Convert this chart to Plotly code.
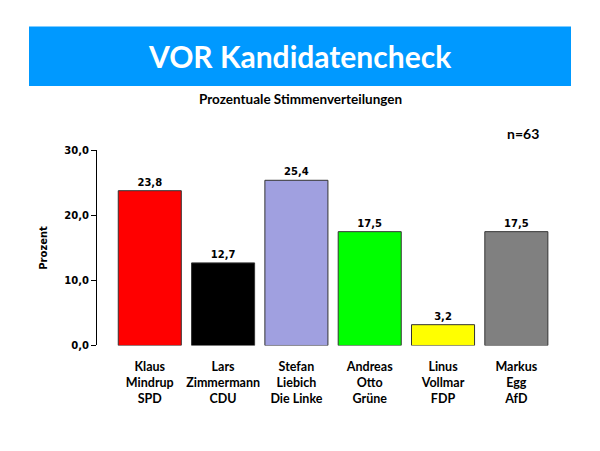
import plotly.graph_objects as go

candidates = ["Klaus<br>Mindrup<br>SPD", "Lars<br>Zimmermann<br>CDU", "Stefan<br>Liebich<br>Die Linke",
              "Andreas<br>Otto<br>Grüne", "Linus<br>Vollmar<br>FDP", "Markus<br>Egg<br>AfD"]
values = [23.8, 12.7, 25.4, 17.5, 3.2, 17.5]
colors = ["#FF0000", "#000000", "#A0A0E0", "#00FF00", "#FFFF00", "#808080"]
y_ticks = [0, 10, 20, 30]

W, H = 600, 451
x_idx = list(range(len(candidates)))

fig = go.Figure()
fig.add_trace(go.Bar(
    x=x_idx, y=values,
    marker=dict(color=colors, line=dict(color="#333333", width=1)),
    width=0.86,
    texttemplate="%{y:.1f}", textposition="outside",
    textfont=dict(family="DejaVu Sans", size=10, color="black", weight="bold"),
    cliponaxis=False,
))

fig.update_layout(
    width=W, height=H,
    margin=dict(l=0, r=0, t=0, b=0),
    paper_bgcolor="white", plot_bgcolor="white",
    separators=",.",
    showlegend=False,
    xaxis=dict(
        domain=[97 / W, 553 / W],
        range=[-0.72, 5.5],
        tickvals=x_idx,
        ticktext=candidates,
        tickfont=dict(family="Lato", size=12.5, color="black", weight="bold"),
        showline=False, showgrid=False, zeroline=False, ticks="",
        ticklabelstandoff=12,
    ),
    yaxis=dict(
        domain=[(H - 349) / H, (H - 149) / H],
        range=[0, 30],
        tickvals=y_ticks,
        tickformat=".1f",
        tickfont=dict(family="DejaVu Sans", size=10, color="black", weight="bold"),
        showline=True, linecolor="black", linewidth=1,
        ticks="outside", ticklen=5, tickcolor="black",
        showgrid=False, zeroline=False,
        title=dict(text="Prozent", font=dict(family="DejaVu Sans", size=10, color="black", weight="bold"), standoff=14),
    ),
    shapes=[dict(type="rect", xref="paper", yref="paper",
                 x0=29 / W, x1=571 / W, y0=1 - 83 / H, y1=1 - 22 / H,
                 fillcolor="#0099FF", line=dict(width=0), layer="below")],
    annotations=[
        dict(text="VOR Kandidatencheck", xref="paper", yref="paper",
             x=0.5, y=1 - 52 / H, showarrow=False, xanchor="center", yanchor="middle",
             font=dict(family="Lato", size=30, color="white", weight="bold")),
        dict(text="Prozentuale Stimmenverteilungen", xref="paper", yref="paper",
             x=0.5, y=1 - 96 / H, showarrow=False, xanchor="center", yanchor="middle",
             font=dict(family="Lato", size=13.5, color="black", weight="bold")),
        dict(text="n=63", xref="paper", yref="paper",
             x=523 / W, y=1 - 132 / H, showarrow=False, xanchor="center", yanchor="middle",
             font=dict(family="Lato", size=14, color="black", weight="bold")),
    ],
)

fig.write_html("out.html", config={"displayModeBar": False},
               post_script="document.body.style.margin='0';")
